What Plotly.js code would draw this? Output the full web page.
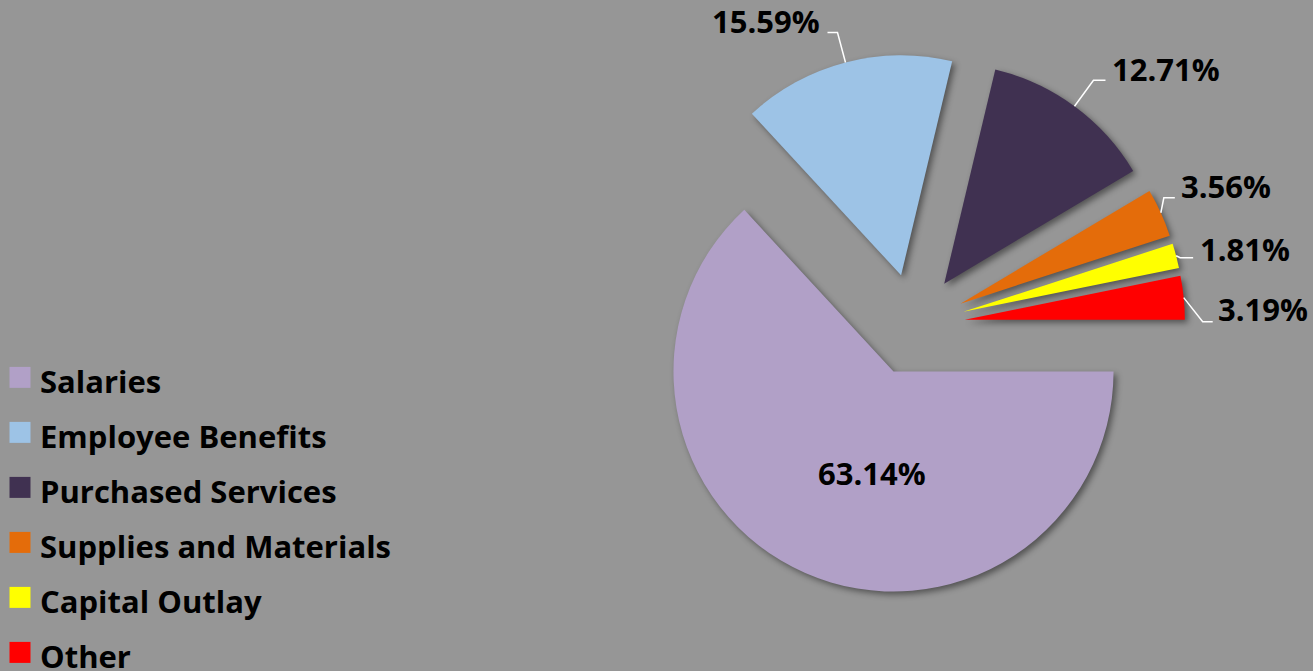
<!DOCTYPE html>
<html><head><meta charset="utf-8">
<script src="https://cdn.plot.ly/plotly-3.0.1.min.js"></script>
<style>
html,body{margin:0;padding:0;background:#969696;}
#chart{width:1313px;height:671px;}
.slice path.surface{filter:drop-shadow(3px 3px 3px rgba(0,0,0,0.45));}
.legend .legendpie{transform:translate(20px,0px) scale(1.75);}
.legend .scrollbar{display:none;}
</style></head><body><div id="chart"></div>
<script>
const categories = ['Salaries', 'Employee Benefits', 'Purchased Services', 'Supplies and Materials', 'Capital Outlay', 'Other'];
const shares = [63.14, 15.59, 12.71, 3.56, 1.81, 3.19];
const sliceColors = ['#B1A0C7', '#9DC3E6', '#403151', '#E46C0A', '#FFFF00', '#FF0000'];

// label placement (pixels): text centre relative to the slice's outer-mid point
// (first slice: relative to its apex, drawn inside)
const labelOffsets = [[-21, 101], [-79, -41], [92, -37], [65, -27], [69, -7], [79, 11]];
// leader line: elbow point and end point relative to the outer-mid point
const leaderShape = [null, [[-8, -30], [-18, -30]], [[19, -26], [31, -26]], [[3, -15], [14, -15]], [[4, 2], [17, 2]], [[19, 24], [29, 24]]];
const PULL = 0.232;
const W = 1313, H = 671;
const labelFont = {family: 'Open Sans', size: 31, color: '#000000', weight: 'bold'};

const trace = {
  type: 'pie',
  labels: categories.map(c => '<span style="font-size:31px">' + c + '</span>'),
  values: shares,
  sort: false,
  direction: 'clockwise',
  rotation: 90,
  pull: shares.map(() => PULL),
  marker: {colors: sliceColors, line: {width: 0}},
  textinfo: 'none',
  domain: {x: [0.40, 0.9922], y: [0.112, 0.920]},
  hoverinfo: 'none'
};

const layout = {
  width: W, height: H,
  paper_bgcolor: '#969696',
  plot_bgcolor: '#969696',
  margin: {l: 0, r: 0, t: 0, b: 0, autoexpand: false},
  showlegend: true,
  legend: {
    x: 0, xanchor: 'left', y: 0.486, yanchor: 'top',
    font: {family: 'Open Sans', size: 40, color: '#000000', weight: 'bold'},
    bgcolor: 'rgba(0,0,0,0)',
    traceorder: 'normal'
  }
};

const toPaper = (px, py) => [px / W, 1 - py / H];

Plotly.newPlot('chart', [trace], layout, {displayModeBar: false, staticPlot: true}).then(gd => {
  const cd = gd.calcdata[0];
  const cx = cd[0].cx, cy = cd[0].cy;
  const anns = [], shapes = [];
  cd.forEach((pt, i) => {
    const txt = shares[i].toFixed(2) + '%';
    const k = i === 0 ? PULL : 1 + PULL;
    const px = cx + pt.pxmid[0] * k, py = cy + pt.pxmid[1] * k;
    const [tx, ty] = toPaper(px + labelOffsets[i][0], py + labelOffsets[i][1]);
    anns.push({xref: 'paper', yref: 'paper', x: tx, y: ty, text: txt, showarrow: false,
      xanchor: 'center', yanchor: 'middle', font: labelFont});
    if (leaderShape[i]) {
      const a = toPaper(px, py);
      const e = toPaper(px + leaderShape[i][0][0], py + leaderShape[i][0][1]);
      const f = toPaper(px + leaderShape[i][1][0], py + leaderShape[i][1][1]);
      shapes.push({type: 'path', xref: 'paper', yref: 'paper', layer: 'above',
        path: `M${a[0]},${a[1]} L${e[0]},${e[1]} L${f[0]},${f[1]}`,
        line: {color: '#ffffff', width: 1.5}});
    }
  });
  return Plotly.relayout(gd, {annotations: anns, shapes: shapes});
});
</script></body></html>
